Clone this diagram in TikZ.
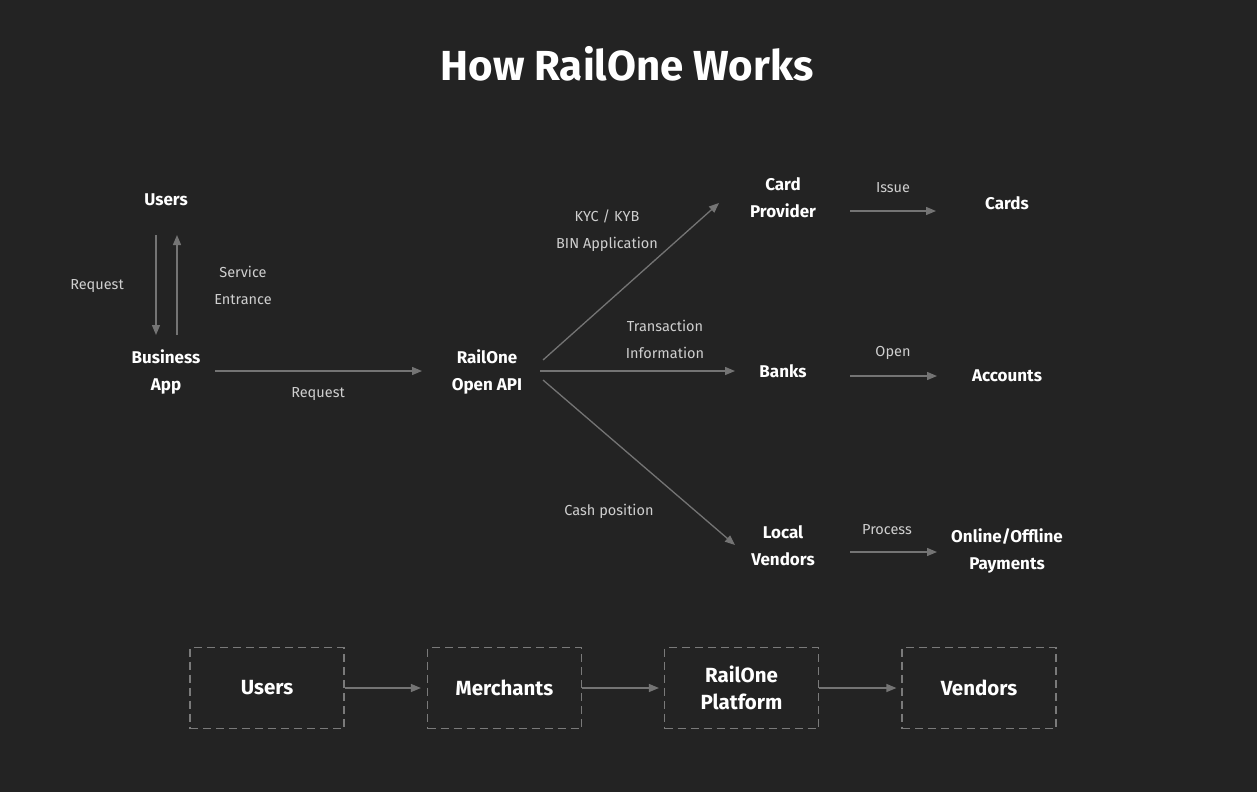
\documentclass[tikz,border=0pt]{standalone}
\usepackage{fontspec}
\setmainfont{Fira Sans}
\usetikzlibrary{arrows.meta}
\definecolor{bg}{HTML}{232323}
\definecolor{arr}{HTML}{747474}
\definecolor{lbl}{HTML}{CFCFCF}
\definecolor{dsh}{HTML}{7A7A7A}
\begin{document}
\begin{tikzpicture}[x=1pt,y=-1pt,
  ent/.style={text=white,font=\fontsize{17}{27}\selectfont\bfseries,align=center,inner sep=0pt},
  lab/.style={text=lbl,font=\fontsize{14.5}{27}\selectfont,align=center,inner sep=0pt},
  con/.style={draw=arr,line width=1.3pt,-{Triangle[length=10pt,width=8pt]}},
  dbox/.style={draw=dsh,line width=1.2pt,dash pattern=on 8pt off 5pt,minimum width=154pt,minimum height=81pt,inner sep=0pt,text=white,font=\fontsize{20.5}{27}\selectfont\bfseries,align=center}]
\fill[bg] (0,0) rectangle (1257,792);
\useasboundingbox (0,0) rectangle (1257,792);
\node[text=white,font=\fontsize{42}{46}\selectfont\bfseries] (title) at (627,64) {How RailOne Works};
% nodes
\node[ent] (users) at (166,200) {Users};
\node[ent] (biz) at (166,372) {Business\\App};
\node[ent] (api) at (487,372) {RailOne\\Open API};
\node[ent] (card) at (783,198) {Card\\Provider};
\node[ent] (banks) at (783,371) {Banks};
\node[ent] (local) at (783,546) {Local\\Vendors};
\node[ent] (cards) at (1007,203) {Cards};
\node[ent] (acc) at (1007,376) {Accounts};
\node[ent] (pay) at (1007,551) {Online/Offline\\Payments};
% coordinates
\coordinate (u1) at (156,235); \coordinate (b1) at (156,335);
\coordinate (b2) at (177,335); \coordinate (u2) at (177,235);
\coordinate (bz) at (215,371); \coordinate (ap) at (422,371);
\coordinate (a1) at (543,360); \coordinate (c1) at (719,203);
\coordinate (a2) at (540,371); \coordinate (k2) at (735,371);
\coordinate (a3) at (543,380); \coordinate (l3) at (735,545);
\coordinate (c4) at (850,211); \coordinate (d4) at (936,211);
\coordinate (c5) at (850,376); \coordinate (d5) at (937,376);
\coordinate (c6) at (850,552); \coordinate (d6) at (937,552);
\draw[con] (u1) -- (b1);
\draw[con] (b2) -- (u2);
\draw[con] (bz) -- (ap);
\draw[con] (a1) -- (c1);
\draw[con] (a2) -- (k2);
\draw[con] (a3) -- (l3);
\draw[con] (c4) -- (d4);
\draw[con] (c5) -- (d5);
\draw[con] (c6) -- (d6);
% labels
\node[lab] (l1) at (97,286) {Request};
\node[lab] (l2) at (243,285) {Service\\Entrance};
\node[lab] (l3t) at (318,394) {Request};
\node[lab] (l4) at (607,231) {KYC / KYB\\BIN Application};
\node[lab] (l5) at (665,339) {Transaction\\Information};
\node[lab] (l6) at (609,511) {Cash position};
\node[lab] (l7) at (893,188) {Issue};
\node[lab] (l8) at (893,353) {Open};
\node[lab] (l9) at (887,530) {Process};
% bottom row
\node[dbox] (bu) at (267,688) {Users};
\node[dbox] (bm) at (504.5,688) {Merchants};
\node[dbox] (br) at (741.5,688) {RailOne\\Platform};
\node[dbox] (bv) at (979,688) {Vendors};
\draw[con] (bu.east) -- ([xshift=-6pt]bm.west);
\draw[con] (bm.east) -- ([xshift=-5pt]br.west);
\draw[con] (br.east) -- ([xshift=-5pt]bv.west);
\end{tikzpicture}
\end{document}
